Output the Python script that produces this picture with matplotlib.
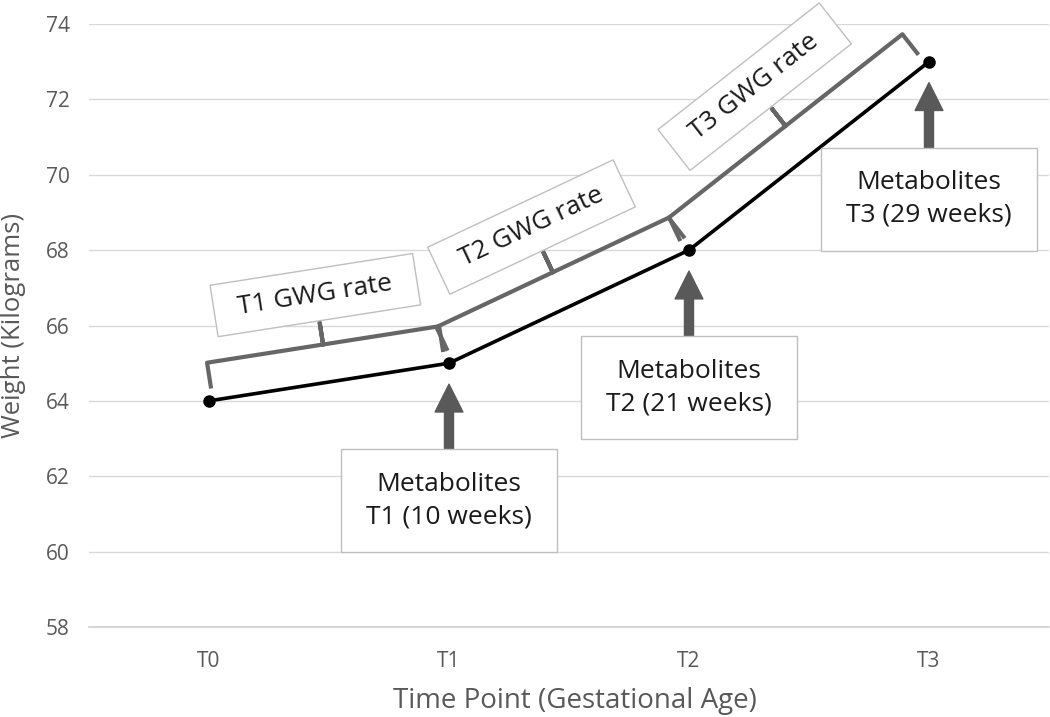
import numpy as np
import matplotlib
matplotlib.use("Agg")
import matplotlib.pyplot as plt
from matplotlib.patches import Polygon, FancyArrowPatch

time_points = ["T0", "T1", "T2", "T3"]
weights = [64, 65, 68, 73]
y_ticks = [58, 60, 62, 64, 66, 68, 70, 72, 74]
rate_labels = ["T1 GWG rate", "T2 GWG rate", "T3 GWG rate"]
metabolite_labels = ["Metabolites\nT1 (10 weeks)",
                     "Metabolites\nT2 (21 weeks)",
                     "Metabolites\nT3 (29 weeks)"]

plt.rcParams['font.family'] = ['Open Sans', 'DejaVu Sans']

GREY = '#595959'
W, H = 1050, 717

fig = plt.figure(figsize=(W / 100, H / 100), dpi=100)
ax = fig.add_axes([89 / W, 1 - 627 / H, 960 / W, 603 / H])

x = np.arange(len(time_points))
ax.set_xlim(-0.5, len(time_points) - 0.5)
ax.set_ylim(y_ticks[0], y_ticks[-1])
ax.set_yticks(y_ticks)
ax.set_xticks(x)
ax.set_xticklabels(time_points)
ax.grid(axis='y', color='#d9d9d9', lw=1)
ax.set_axisbelow(True)
for s in ['top', 'right', 'left']:
    ax.spines[s].set_visible(False)
ax.spines['bottom'].set_color('#d0d0d0')
ax.spines['bottom'].set_linewidth(1.2)
ax.tick_params(axis='both', length=0, colors=GREY, labelsize=15)
ax.tick_params(axis='y', pad=14)
ax.tick_params(axis='x', pad=17)
ax.set_xlabel('Time Point (Gestational Age)', fontsize=20, color=GREY)
ax.xaxis.set_label_coords(0.506, -0.1)
ax.set_ylabel('Weight (Kilograms)', fontsize=18.5, color=GREY)
ax.yaxis.set_label_coords(-0.066, 0.5)

ax.plot(x, weights, color='black', lw=2.6, marker='o', ms=8, zorder=5)

# work in pixel space for the annotations, then map back to data coords
pix = ax.transData.transform(np.column_stack([x, weights]))
to_data = ax.transData.inverted().transform


def draw_poly(pts, **kw):
    d = to_data(np.asarray(pts))
    ax.plot(d[:, 0], d[:, 1], clip_on=False, **kw)


for i, label in enumerate(rate_labels):
    p1, p2 = pix[i], pix[i + 1]
    u = (p2 - p1) / np.linalg.norm(p2 - p1)
    n = np.array([-u[1], u[0]])
    a = p1 + u * 4
    b = p2 - u * 4
    m = (a + b) / 2
    near, far, tip = 14, 38, 60
    brace = [a + n * near, a + n * far, m + n * far, m + n * tip,
             m + n * far, b + n * far, b + n * near]
    draw_poly(brace, color='#666666', lw=3, solid_joinstyle='round', zorder=4)

    # rotated label box
    c = m + n * 88
    bw, bh = 205, 52
    corners = [c - u * bw / 2 - n * bh / 2, c + u * bw / 2 - n * bh / 2,
               c + u * bw / 2 + n * bh / 2, c - u * bw / 2 + n * bh / 2]
    poly = Polygon(to_data(np.array(corners)), closed=True, facecolor='white',
                   edgecolor='#bfbfbf', lw=1, zorder=6, clip_on=False)
    ax.add_patch(poly)
    ang = np.degrees(np.arctan2(u[1], u[0]))
    cd = to_data(c[None, :])[0]
    ax.text(cd[0], cd[1], label, rotation=ang, rotation_mode='anchor',
            ha='center', va='center', fontsize=19, color='#1a1a1a', zorder=7)

for i, label in enumerate(metabolite_labels):
    p = pix[i + 1]
    tip = p + np.array([0, -21])
    tail = p + np.array([0, -87])
    arr = FancyArrowPatch(to_data(tail[None, :])[0], to_data(tip[None, :])[0],
                          arrowstyle='simple,head_length=20,head_width=20,tail_width=6.5',
                          mutation_scale=1, color=GREY, shrinkA=0, shrinkB=0, zorder=4)
    ax.add_patch(arr)
    bw, bh = 216, 103
    top = p[1] - 86
    corners = [(p[0] - bw / 2, top), (p[0] + bw / 2, top),
               (p[0] + bw / 2, top - bh), (p[0] - bw / 2, top - bh)]
    box = Polygon(to_data(np.array(corners)), closed=True, facecolor='white',
                  edgecolor='#bfbfbf', lw=1, zorder=6, clip_on=False)
    ax.add_patch(box)
    cd = to_data(np.array([[p[0], top - bh / 2]]))[0]
    ax.text(cd[0], cd[1], label, ha='center', va='center', fontsize=19,
            linespacing=1.4, color='#1a1a1a', zorder=7)

fig.savefig('out.png', dpi=100)
